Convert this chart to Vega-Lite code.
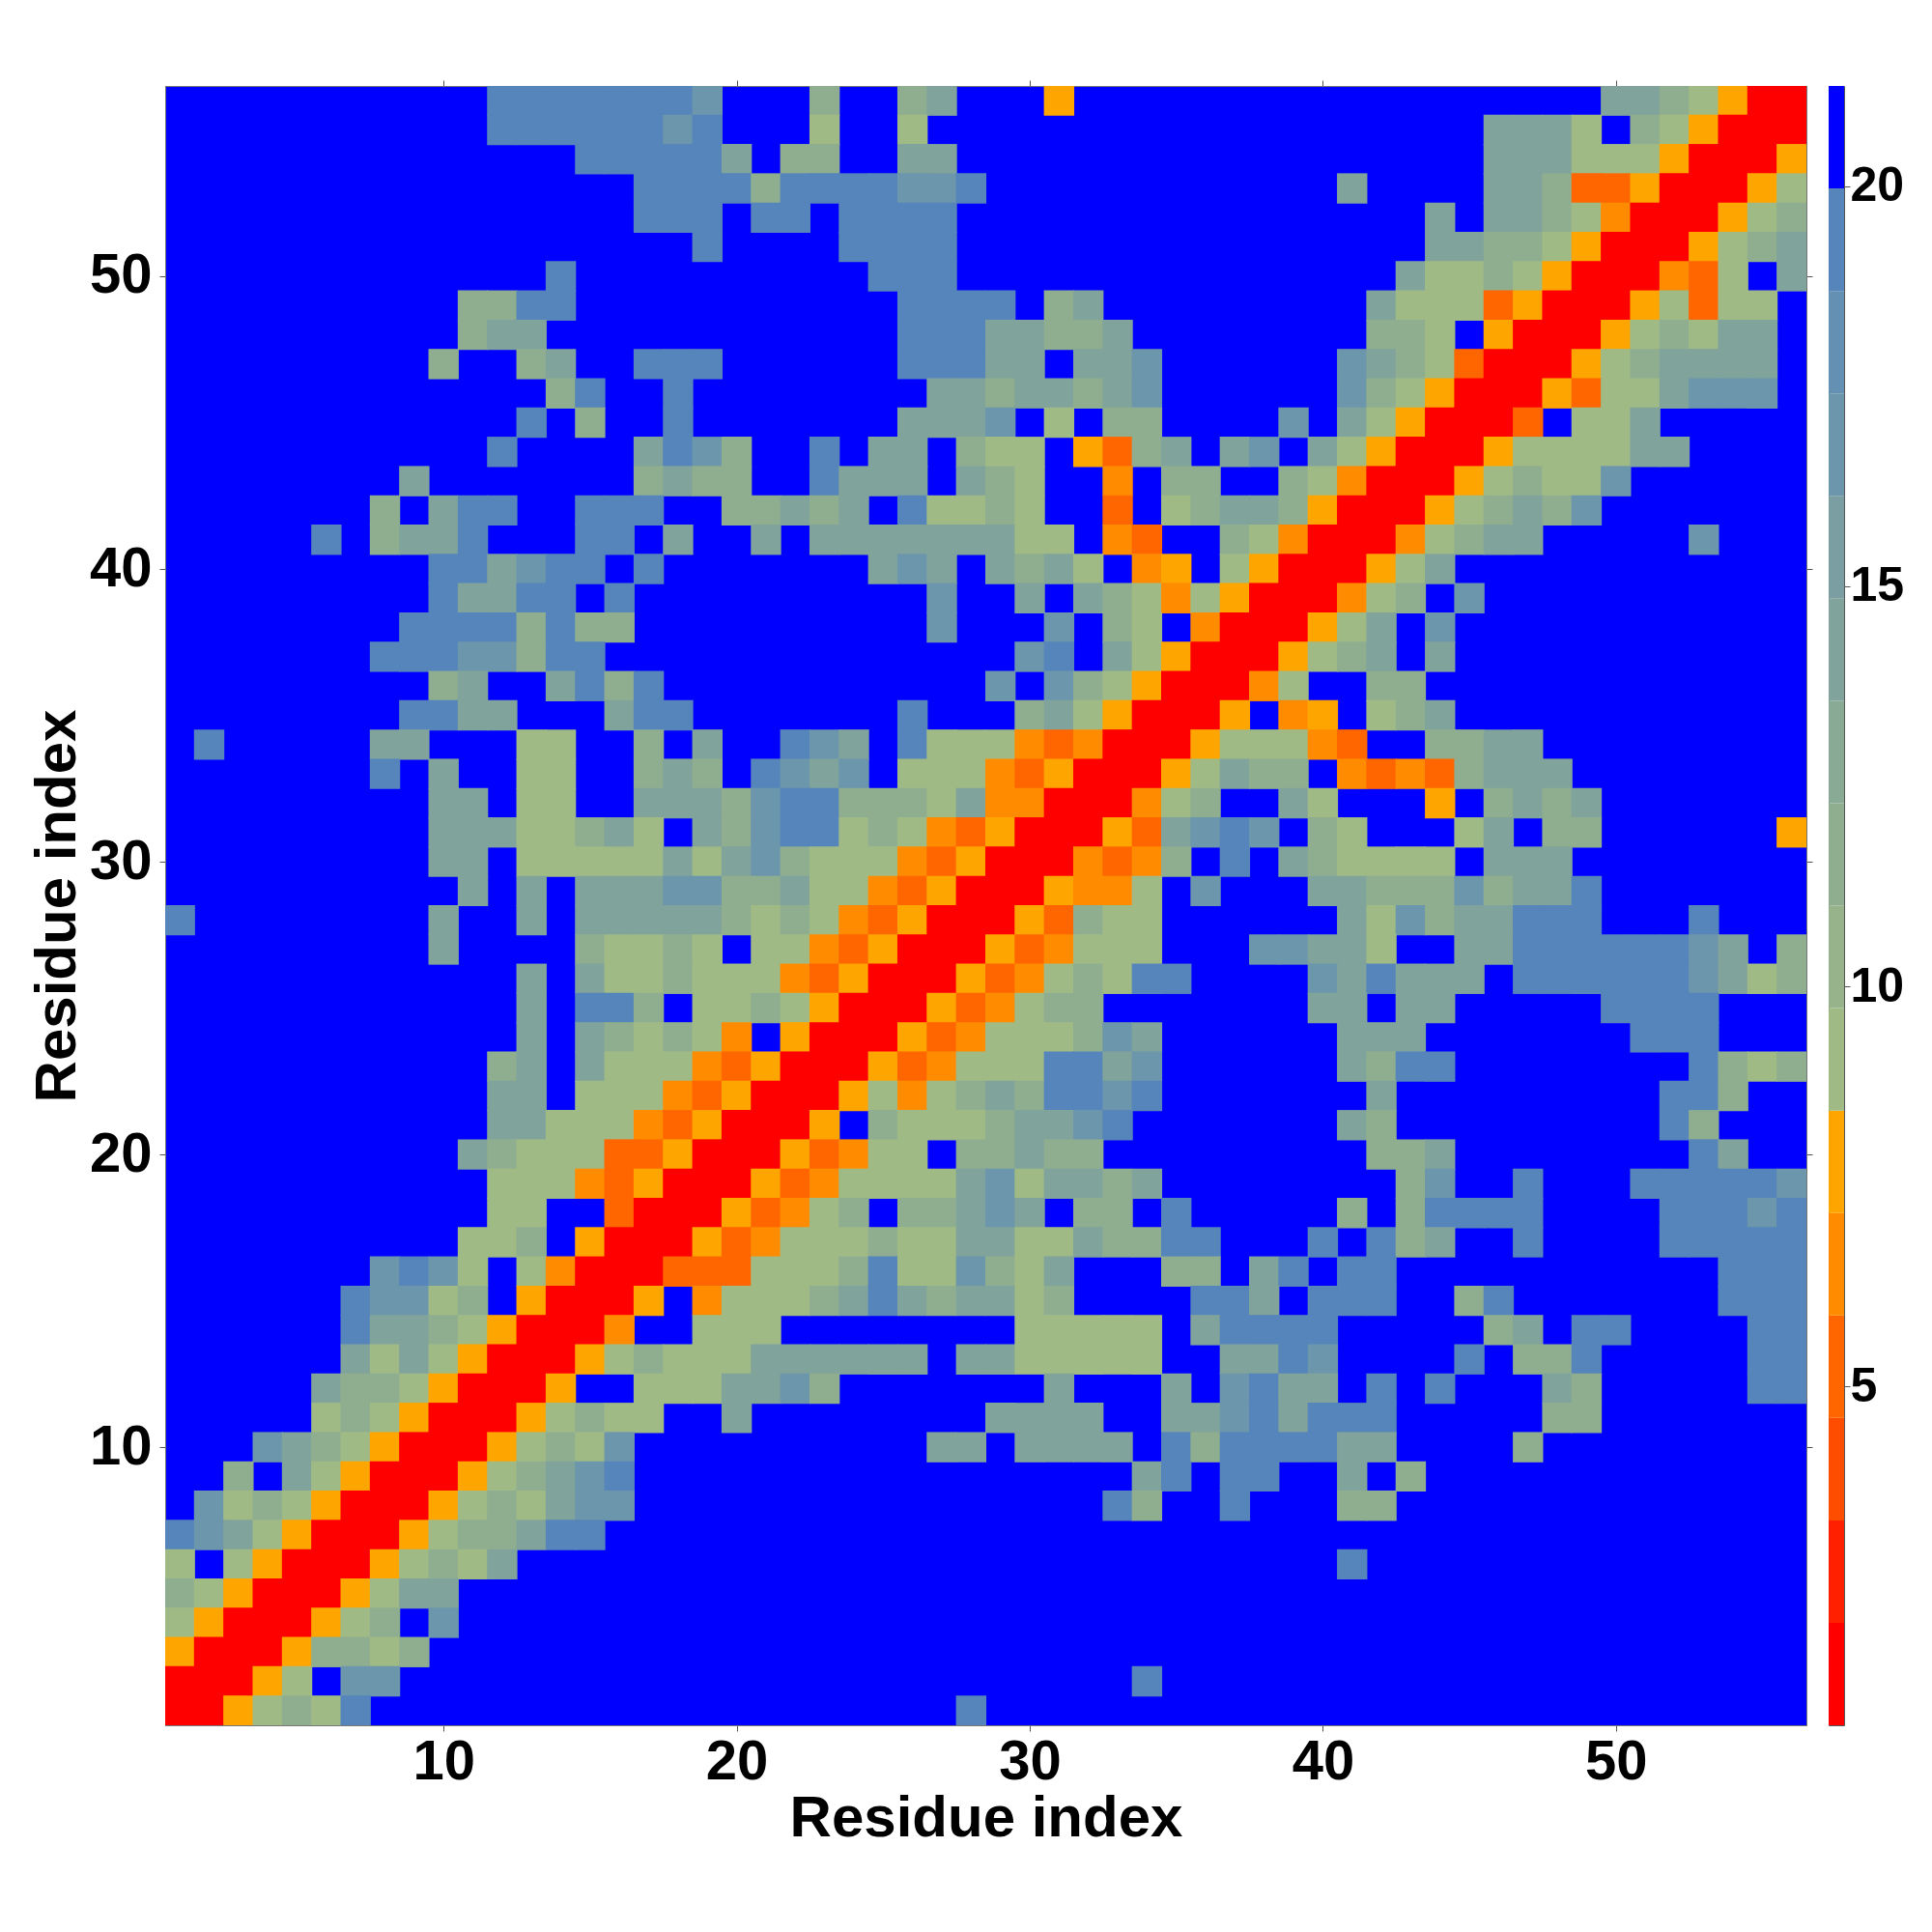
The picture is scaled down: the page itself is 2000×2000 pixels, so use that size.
{"$schema":"https://vega.github.io/schema/vega-lite/v6.json","background":"white","padding":{"left":28,"top":82,"right":0,"bottom":0},"spacing":15,"config":{"font":"Liberation Sans","axis":{"labelFont":"Liberation Sans","titleFont":"Liberation Sans","labelFontWeight":"bold","titleFontWeight":"bold","labelFontSize":58,"titleFontSize":60,"labelColor":"black","titleColor":"black","tickColor":"#555555","domainColor":"#777777","grid":false,"tickSize":6,"labelOverlap":false}},"datasets":{"cells":[
{"x":12,"y":56,"d":19},{"x":13,"y":56,"d":19},{"x":14,"y":56,"d":19},{"x":15,"y":56,"d":19},{"x":16,"y":56,"d":19},{"x":17,"y":56,"d":19},{"x":18,"y":56,"d":19},{"x":19,"y":56,"d":17},{"x":23,"y":56,"d":12},{"x":26,"y":56,"d":12},{"x":27,"y":56,"d":14},{"x":31,"y":56,"d":8},{"x":50,"y":56,"d":14},{"x":51,"y":56,"d":14},{"x":52,"y":56,"d":12},{"x":53,"y":56,"d":9},{"x":54,"y":56,"d":8},{"x":55,"y":56,"d":1},{"x":56,"y":56,"d":1},
{"x":12,"y":55,"d":19},{"x":13,"y":55,"d":19},{"x":14,"y":55,"d":19},{"x":15,"y":55,"d":19},{"x":16,"y":55,"d":19},{"x":17,"y":55,"d":19},{"x":18,"y":55,"d":17},{"x":19,"y":55,"d":19},{"x":23,"y":55,"d":9},{"x":26,"y":55,"d":9},{"x":46,"y":55,"d":14},{"x":47,"y":55,"d":14},{"x":48,"y":55,"d":14},{"x":49,"y":55,"d":9},{"x":51,"y":55,"d":12},{"x":52,"y":55,"d":9},{"x":53,"y":55,"d":8},{"x":54,"y":55,"d":1},{"x":55,"y":55,"d":1},{"x":56,"y":55,"d":1},
{"x":15,"y":54,"d":19},{"x":16,"y":54,"d":19},{"x":17,"y":54,"d":19},{"x":18,"y":54,"d":19},{"x":19,"y":54,"d":19},{"x":20,"y":54,"d":14},{"x":22,"y":54,"d":12},{"x":23,"y":54,"d":12},{"x":26,"y":54,"d":14},{"x":27,"y":54,"d":14},{"x":46,"y":54,"d":14},{"x":47,"y":54,"d":14},{"x":48,"y":54,"d":14},{"x":49,"y":54,"d":9},{"x":50,"y":54,"d":9},{"x":51,"y":54,"d":9},{"x":52,"y":54,"d":8},{"x":53,"y":54,"d":1},{"x":54,"y":54,"d":1},{"x":55,"y":54,"d":1},{"x":56,"y":54,"d":8},
{"x":17,"y":53,"d":19},{"x":18,"y":53,"d":19},{"x":19,"y":53,"d":19},{"x":20,"y":53,"d":19},{"x":21,"y":53,"d":12},{"x":22,"y":53,"d":19},{"x":23,"y":53,"d":19},{"x":24,"y":53,"d":19},{"x":25,"y":53,"d":19},{"x":26,"y":53,"d":17},{"x":27,"y":53,"d":17},{"x":28,"y":53,"d":19},{"x":41,"y":53,"d":14},{"x":46,"y":53,"d":14},{"x":47,"y":53,"d":14},{"x":48,"y":53,"d":12},{"x":49,"y":53,"d":5},{"x":50,"y":53,"d":5},{"x":51,"y":53,"d":8},{"x":52,"y":53,"d":1},{"x":53,"y":53,"d":1},{"x":54,"y":53,"d":1},{"x":55,"y":53,"d":8},{"x":56,"y":53,"d":9},
{"x":17,"y":52,"d":19},{"x":18,"y":52,"d":19},{"x":19,"y":52,"d":19},{"x":21,"y":52,"d":19},{"x":22,"y":52,"d":19},{"x":24,"y":52,"d":19},{"x":25,"y":52,"d":19},{"x":26,"y":52,"d":19},{"x":27,"y":52,"d":19},{"x":44,"y":52,"d":14},{"x":46,"y":52,"d":14},{"x":47,"y":52,"d":14},{"x":48,"y":52,"d":12},{"x":49,"y":52,"d":9},{"x":50,"y":52,"d":7},{"x":51,"y":52,"d":1},{"x":52,"y":52,"d":1},{"x":53,"y":52,"d":1},{"x":54,"y":52,"d":8},{"x":55,"y":52,"d":9},{"x":56,"y":52,"d":12},
{"x":19,"y":51,"d":19},{"x":24,"y":51,"d":19},{"x":25,"y":51,"d":19},{"x":26,"y":51,"d":19},{"x":27,"y":51,"d":19},{"x":44,"y":51,"d":14},{"x":45,"y":51,"d":14},{"x":46,"y":51,"d":12},{"x":47,"y":51,"d":12},{"x":48,"y":51,"d":9},{"x":49,"y":51,"d":8},{"x":50,"y":51,"d":1},{"x":51,"y":51,"d":1},{"x":52,"y":51,"d":1},{"x":53,"y":51,"d":8},{"x":54,"y":51,"d":9},{"x":55,"y":51,"d":12},{"x":56,"y":51,"d":14},
{"x":14,"y":50,"d":19},{"x":25,"y":50,"d":19},{"x":26,"y":50,"d":19},{"x":27,"y":50,"d":19},{"x":43,"y":50,"d":14},{"x":44,"y":50,"d":9},{"x":45,"y":50,"d":9},{"x":46,"y":50,"d":12},{"x":47,"y":50,"d":9},{"x":48,"y":50,"d":8},{"x":49,"y":50,"d":1},{"x":50,"y":50,"d":1},{"x":51,"y":50,"d":1},{"x":52,"y":50,"d":7},{"x":53,"y":50,"d":5},{"x":54,"y":50,"d":9},{"x":56,"y":50,"d":14},
{"x":11,"y":49,"d":12},{"x":12,"y":49,"d":12},{"x":13,"y":49,"d":19},{"x":14,"y":49,"d":19},{"x":26,"y":49,"d":19},{"x":27,"y":49,"d":19},{"x":28,"y":49,"d":19},{"x":29,"y":49,"d":19},{"x":31,"y":49,"d":12},{"x":32,"y":49,"d":14},{"x":42,"y":49,"d":14},{"x":43,"y":49,"d":9},{"x":44,"y":49,"d":9},{"x":45,"y":49,"d":9},{"x":46,"y":49,"d":5},{"x":47,"y":49,"d":8},{"x":48,"y":49,"d":1},{"x":49,"y":49,"d":1},{"x":50,"y":49,"d":1},{"x":51,"y":49,"d":8},{"x":52,"y":49,"d":9},{"x":53,"y":49,"d":5},{"x":54,"y":49,"d":9},{"x":55,"y":49,"d":9},
{"x":11,"y":48,"d":12},{"x":12,"y":48,"d":14},{"x":13,"y":48,"d":14},{"x":26,"y":48,"d":19},{"x":27,"y":48,"d":19},{"x":28,"y":48,"d":19},{"x":29,"y":48,"d":14},{"x":30,"y":48,"d":14},{"x":31,"y":48,"d":12},{"x":32,"y":48,"d":12},{"x":33,"y":48,"d":14},{"x":42,"y":48,"d":12},{"x":43,"y":48,"d":12},{"x":44,"y":48,"d":9},{"x":46,"y":48,"d":8},{"x":47,"y":48,"d":1},{"x":48,"y":48,"d":1},{"x":49,"y":48,"d":1},{"x":50,"y":48,"d":8},{"x":51,"y":48,"d":9},{"x":52,"y":48,"d":12},{"x":53,"y":48,"d":9},{"x":54,"y":48,"d":14},{"x":55,"y":48,"d":14},
{"x":10,"y":47,"d":12},{"x":13,"y":47,"d":12},{"x":14,"y":47,"d":14},{"x":17,"y":47,"d":19},{"x":18,"y":47,"d":19},{"x":19,"y":47,"d":19},{"x":26,"y":47,"d":19},{"x":27,"y":47,"d":19},{"x":28,"y":47,"d":19},{"x":29,"y":47,"d":14},{"x":30,"y":47,"d":14},{"x":32,"y":47,"d":14},{"x":33,"y":47,"d":14},{"x":34,"y":47,"d":17},{"x":41,"y":47,"d":17},{"x":42,"y":47,"d":14},{"x":43,"y":47,"d":12},{"x":44,"y":47,"d":9},{"x":45,"y":47,"d":5},{"x":46,"y":47,"d":1},{"x":47,"y":47,"d":1},{"x":48,"y":47,"d":1},{"x":49,"y":47,"d":8},{"x":50,"y":47,"d":9},{"x":51,"y":47,"d":12},{"x":52,"y":47,"d":14},{"x":53,"y":47,"d":14},{"x":54,"y":47,"d":14},{"x":55,"y":47,"d":14},
{"x":14,"y":46,"d":12},{"x":15,"y":46,"d":19},{"x":18,"y":46,"d":19},{"x":27,"y":46,"d":14},{"x":28,"y":46,"d":14},{"x":29,"y":46,"d":12},{"x":30,"y":46,"d":14},{"x":31,"y":46,"d":14},{"x":32,"y":46,"d":12},{"x":33,"y":46,"d":14},{"x":34,"y":46,"d":17},{"x":41,"y":46,"d":17},{"x":42,"y":46,"d":12},{"x":43,"y":46,"d":9},{"x":44,"y":46,"d":8},{"x":45,"y":46,"d":1},{"x":46,"y":46,"d":1},{"x":47,"y":46,"d":1},{"x":48,"y":46,"d":8},{"x":49,"y":46,"d":5},{"x":50,"y":46,"d":9},{"x":51,"y":46,"d":9},{"x":52,"y":46,"d":14},{"x":53,"y":46,"d":17},{"x":54,"y":46,"d":17},{"x":55,"y":46,"d":17},
{"x":13,"y":45,"d":19},{"x":15,"y":45,"d":12},{"x":18,"y":45,"d":19},{"x":26,"y":45,"d":14},{"x":27,"y":45,"d":14},{"x":28,"y":45,"d":14},{"x":29,"y":45,"d":17},{"x":31,"y":45,"d":9},{"x":33,"y":45,"d":12},{"x":34,"y":45,"d":12},{"x":39,"y":45,"d":17},{"x":41,"y":45,"d":14},{"x":42,"y":45,"d":9},{"x":43,"y":45,"d":8},{"x":44,"y":45,"d":1},{"x":45,"y":45,"d":1},{"x":46,"y":45,"d":1},{"x":47,"y":45,"d":5},{"x":49,"y":45,"d":9},{"x":50,"y":45,"d":9},{"x":51,"y":45,"d":14},
{"x":12,"y":44,"d":19},{"x":17,"y":44,"d":14},{"x":18,"y":44,"d":19},{"x":19,"y":44,"d":17},{"x":20,"y":44,"d":12},{"x":23,"y":44,"d":19},{"x":25,"y":44,"d":14},{"x":26,"y":44,"d":14},{"x":28,"y":44,"d":12},{"x":29,"y":44,"d":9},{"x":30,"y":44,"d":9},{"x":32,"y":44,"d":8},{"x":33,"y":44,"d":5},{"x":34,"y":44,"d":12},{"x":35,"y":44,"d":14},{"x":37,"y":44,"d":14},{"x":38,"y":44,"d":17},{"x":40,"y":44,"d":14},{"x":41,"y":44,"d":9},{"x":42,"y":44,"d":8},{"x":43,"y":44,"d":1},{"x":44,"y":44,"d":1},{"x":45,"y":44,"d":1},{"x":46,"y":44,"d":8},{"x":47,"y":44,"d":9},{"x":48,"y":44,"d":9},{"x":49,"y":44,"d":9},{"x":50,"y":44,"d":9},{"x":51,"y":44,"d":14},{"x":52,"y":44,"d":14},
{"x":9,"y":43,"d":14},{"x":17,"y":43,"d":12},{"x":18,"y":43,"d":14},{"x":19,"y":43,"d":12},{"x":20,"y":43,"d":12},{"x":23,"y":43,"d":19},{"x":24,"y":43,"d":14},{"x":25,"y":43,"d":14},{"x":26,"y":43,"d":14},{"x":28,"y":43,"d":14},{"x":29,"y":43,"d":12},{"x":30,"y":43,"d":9},{"x":33,"y":43,"d":7},{"x":35,"y":43,"d":12},{"x":36,"y":43,"d":12},{"x":39,"y":43,"d":12},{"x":40,"y":43,"d":9},{"x":41,"y":43,"d":7},{"x":42,"y":43,"d":1},{"x":43,"y":43,"d":1},{"x":44,"y":43,"d":1},{"x":45,"y":43,"d":8},{"x":46,"y":43,"d":9},{"x":47,"y":43,"d":12},{"x":48,"y":43,"d":9},{"x":49,"y":43,"d":9},{"x":50,"y":43,"d":17},
{"x":8,"y":42,"d":12},{"x":10,"y":42,"d":14},{"x":11,"y":42,"d":19},{"x":12,"y":42,"d":19},{"x":15,"y":42,"d":19},{"x":16,"y":42,"d":19},{"x":17,"y":42,"d":19},{"x":20,"y":42,"d":12},{"x":21,"y":42,"d":12},{"x":22,"y":42,"d":14},{"x":23,"y":42,"d":12},{"x":24,"y":42,"d":14},{"x":26,"y":42,"d":19},{"x":27,"y":42,"d":9},{"x":28,"y":42,"d":9},{"x":29,"y":42,"d":12},{"x":30,"y":42,"d":9},{"x":33,"y":42,"d":5},{"x":35,"y":42,"d":9},{"x":36,"y":42,"d":12},{"x":37,"y":42,"d":14},{"x":38,"y":42,"d":14},{"x":39,"y":42,"d":12},{"x":40,"y":42,"d":8},{"x":41,"y":42,"d":1},{"x":42,"y":42,"d":1},{"x":43,"y":42,"d":1},{"x":44,"y":42,"d":8},{"x":45,"y":42,"d":9},{"x":46,"y":42,"d":12},{"x":47,"y":42,"d":14},{"x":48,"y":42,"d":12},{"x":49,"y":42,"d":17},
{"x":6,"y":41,"d":19},{"x":8,"y":41,"d":12},{"x":9,"y":41,"d":14},{"x":10,"y":41,"d":14},{"x":11,"y":41,"d":19},{"x":15,"y":41,"d":19},{"x":16,"y":41,"d":19},{"x":18,"y":41,"d":14},{"x":21,"y":41,"d":14},{"x":23,"y":41,"d":14},{"x":24,"y":41,"d":14},{"x":25,"y":41,"d":14},{"x":26,"y":41,"d":14},{"x":27,"y":41,"d":14},{"x":28,"y":41,"d":14},{"x":29,"y":41,"d":14},{"x":30,"y":41,"d":9},{"x":31,"y":41,"d":9},{"x":33,"y":41,"d":7},{"x":34,"y":41,"d":5},{"x":37,"y":41,"d":12},{"x":38,"y":41,"d":9},{"x":39,"y":41,"d":7},{"x":40,"y":41,"d":1},{"x":41,"y":41,"d":1},{"x":42,"y":41,"d":1},{"x":43,"y":41,"d":7},{"x":44,"y":41,"d":9},{"x":45,"y":41,"d":12},{"x":46,"y":41,"d":14},{"x":47,"y":41,"d":14},{"x":53,"y":41,"d":17},
{"x":10,"y":40,"d":19},{"x":11,"y":40,"d":19},{"x":12,"y":40,"d":14},{"x":13,"y":40,"d":17},{"x":14,"y":40,"d":19},{"x":15,"y":40,"d":19},{"x":17,"y":40,"d":19},{"x":25,"y":40,"d":14},{"x":26,"y":40,"d":17},{"x":27,"y":40,"d":14},{"x":29,"y":40,"d":14},{"x":30,"y":40,"d":12},{"x":31,"y":40,"d":14},{"x":32,"y":40,"d":9},{"x":34,"y":40,"d":7},{"x":35,"y":40,"d":8},{"x":37,"y":40,"d":9},{"x":38,"y":40,"d":8},{"x":39,"y":40,"d":1},{"x":40,"y":40,"d":1},{"x":41,"y":40,"d":1},{"x":42,"y":40,"d":8},{"x":43,"y":40,"d":9},{"x":44,"y":40,"d":14},
{"x":10,"y":39,"d":19},{"x":11,"y":39,"d":14},{"x":12,"y":39,"d":14},{"x":13,"y":39,"d":19},{"x":14,"y":39,"d":19},{"x":16,"y":39,"d":19},{"x":27,"y":39,"d":17},{"x":30,"y":39,"d":14},{"x":32,"y":39,"d":14},{"x":33,"y":39,"d":12},{"x":34,"y":39,"d":9},{"x":35,"y":39,"d":7},{"x":36,"y":39,"d":9},{"x":37,"y":39,"d":8},{"x":38,"y":39,"d":1},{"x":39,"y":39,"d":1},{"x":40,"y":39,"d":1},{"x":41,"y":39,"d":7},{"x":42,"y":39,"d":9},{"x":43,"y":39,"d":12},{"x":45,"y":39,"d":17},
{"x":9,"y":38,"d":19},{"x":10,"y":38,"d":19},{"x":11,"y":38,"d":19},{"x":12,"y":38,"d":19},{"x":13,"y":38,"d":12},{"x":14,"y":38,"d":19},{"x":15,"y":38,"d":12},{"x":16,"y":38,"d":12},{"x":27,"y":38,"d":17},{"x":31,"y":38,"d":17},{"x":33,"y":38,"d":12},{"x":34,"y":38,"d":9},{"x":36,"y":38,"d":7},{"x":37,"y":38,"d":1},{"x":38,"y":38,"d":1},{"x":39,"y":38,"d":1},{"x":40,"y":38,"d":8},{"x":41,"y":38,"d":9},{"x":42,"y":38,"d":14},{"x":44,"y":38,"d":17},
{"x":8,"y":37,"d":19},{"x":9,"y":37,"d":19},{"x":10,"y":37,"d":19},{"x":11,"y":37,"d":17},{"x":12,"y":37,"d":17},{"x":13,"y":37,"d":12},{"x":14,"y":37,"d":19},{"x":15,"y":37,"d":19},{"x":30,"y":37,"d":17},{"x":31,"y":37,"d":19},{"x":33,"y":37,"d":14},{"x":34,"y":37,"d":9},{"x":35,"y":37,"d":8},{"x":36,"y":37,"d":1},{"x":37,"y":37,"d":1},{"x":38,"y":37,"d":1},{"x":39,"y":37,"d":8},{"x":40,"y":37,"d":9},{"x":41,"y":37,"d":12},{"x":42,"y":37,"d":14},{"x":44,"y":37,"d":14},
{"x":10,"y":36,"d":12},{"x":11,"y":36,"d":14},{"x":14,"y":36,"d":14},{"x":15,"y":36,"d":19},{"x":16,"y":36,"d":12},{"x":17,"y":36,"d":19},{"x":29,"y":36,"d":17},{"x":31,"y":36,"d":17},{"x":32,"y":36,"d":12},{"x":33,"y":36,"d":9},{"x":34,"y":36,"d":8},{"x":35,"y":36,"d":1},{"x":36,"y":36,"d":1},{"x":37,"y":36,"d":1},{"x":38,"y":36,"d":7},{"x":39,"y":36,"d":9},{"x":42,"y":36,"d":12},{"x":43,"y":36,"d":12},
{"x":9,"y":35,"d":19},{"x":10,"y":35,"d":19},{"x":11,"y":35,"d":14},{"x":12,"y":35,"d":14},{"x":16,"y":35,"d":14},{"x":17,"y":35,"d":19},{"x":18,"y":35,"d":19},{"x":26,"y":35,"d":19},{"x":30,"y":35,"d":12},{"x":31,"y":35,"d":14},{"x":32,"y":35,"d":9},{"x":33,"y":35,"d":8},{"x":34,"y":35,"d":1},{"x":35,"y":35,"d":1},{"x":36,"y":35,"d":1},{"x":37,"y":35,"d":8},{"x":39,"y":35,"d":7},{"x":40,"y":35,"d":8},{"x":42,"y":35,"d":9},{"x":43,"y":35,"d":12},{"x":44,"y":35,"d":14},
{"x":2,"y":34,"d":19},{"x":8,"y":34,"d":14},{"x":9,"y":34,"d":14},{"x":13,"y":34,"d":9},{"x":14,"y":34,"d":9},{"x":17,"y":34,"d":12},{"x":19,"y":34,"d":14},{"x":22,"y":34,"d":19},{"x":23,"y":34,"d":17},{"x":24,"y":34,"d":14},{"x":26,"y":34,"d":19},{"x":27,"y":34,"d":9},{"x":28,"y":34,"d":9},{"x":29,"y":34,"d":9},{"x":30,"y":34,"d":7},{"x":31,"y":34,"d":5},{"x":32,"y":34,"d":7},{"x":33,"y":34,"d":1},{"x":34,"y":34,"d":1},{"x":35,"y":34,"d":1},{"x":36,"y":34,"d":8},{"x":37,"y":34,"d":9},{"x":38,"y":34,"d":9},{"x":39,"y":34,"d":9},{"x":40,"y":34,"d":7},{"x":41,"y":34,"d":5},{"x":44,"y":34,"d":12},{"x":45,"y":34,"d":12},{"x":46,"y":34,"d":14},{"x":47,"y":34,"d":14},
{"x":8,"y":33,"d":19},{"x":10,"y":33,"d":14},{"x":13,"y":33,"d":9},{"x":14,"y":33,"d":9},{"x":17,"y":33,"d":12},{"x":18,"y":33,"d":14},{"x":19,"y":33,"d":12},{"x":21,"y":33,"d":19},{"x":22,"y":33,"d":17},{"x":23,"y":33,"d":14},{"x":24,"y":33,"d":17},{"x":26,"y":33,"d":9},{"x":27,"y":33,"d":9},{"x":28,"y":33,"d":9},{"x":29,"y":33,"d":7},{"x":30,"y":33,"d":5},{"x":31,"y":33,"d":8},{"x":32,"y":33,"d":1},{"x":33,"y":33,"d":1},{"x":34,"y":33,"d":1},{"x":35,"y":33,"d":8},{"x":36,"y":33,"d":9},{"x":37,"y":33,"d":14},{"x":38,"y":33,"d":12},{"x":39,"y":33,"d":12},{"x":41,"y":33,"d":7},{"x":42,"y":33,"d":5},{"x":43,"y":33,"d":7},{"x":44,"y":33,"d":5},{"x":45,"y":33,"d":12},{"x":46,"y":33,"d":14},{"x":47,"y":33,"d":14},{"x":48,"y":33,"d":14},
{"x":10,"y":32,"d":14},{"x":11,"y":32,"d":14},{"x":13,"y":32,"d":9},{"x":14,"y":32,"d":9},{"x":17,"y":32,"d":14},{"x":18,"y":32,"d":14},{"x":19,"y":32,"d":14},{"x":20,"y":32,"d":12},{"x":21,"y":32,"d":17},{"x":22,"y":32,"d":19},{"x":23,"y":32,"d":19},{"x":24,"y":32,"d":12},{"x":25,"y":32,"d":12},{"x":26,"y":32,"d":12},{"x":27,"y":32,"d":9},{"x":28,"y":32,"d":14},{"x":29,"y":32,"d":7},{"x":30,"y":32,"d":7},{"x":31,"y":32,"d":1},{"x":32,"y":32,"d":1},{"x":33,"y":32,"d":1},{"x":34,"y":32,"d":7},{"x":35,"y":32,"d":9},{"x":36,"y":32,"d":12},{"x":39,"y":32,"d":14},{"x":40,"y":32,"d":9},{"x":44,"y":32,"d":8},{"x":46,"y":32,"d":12},{"x":47,"y":32,"d":14},{"x":48,"y":32,"d":12},{"x":49,"y":32,"d":14},
{"x":10,"y":31,"d":14},{"x":11,"y":31,"d":14},{"x":12,"y":31,"d":14},{"x":13,"y":31,"d":9},{"x":14,"y":31,"d":9},{"x":15,"y":31,"d":12},{"x":16,"y":31,"d":14},{"x":17,"y":31,"d":9},{"x":19,"y":31,"d":14},{"x":20,"y":31,"d":12},{"x":21,"y":31,"d":17},{"x":22,"y":31,"d":19},{"x":23,"y":31,"d":19},{"x":24,"y":31,"d":9},{"x":25,"y":31,"d":12},{"x":26,"y":31,"d":9},{"x":27,"y":31,"d":7},{"x":28,"y":31,"d":5},{"x":29,"y":31,"d":8},{"x":30,"y":31,"d":1},{"x":31,"y":31,"d":1},{"x":32,"y":31,"d":1},{"x":33,"y":31,"d":8},{"x":34,"y":31,"d":5},{"x":35,"y":31,"d":14},{"x":36,"y":31,"d":17},{"x":37,"y":31,"d":19},{"x":38,"y":31,"d":17},{"x":40,"y":31,"d":12},{"x":41,"y":31,"d":9},{"x":45,"y":31,"d":9},{"x":46,"y":31,"d":14},{"x":48,"y":31,"d":12},{"x":49,"y":31,"d":12},{"x":56,"y":31,"d":8},
{"x":10,"y":30,"d":14},{"x":11,"y":30,"d":14},{"x":13,"y":30,"d":9},{"x":14,"y":30,"d":9},{"x":15,"y":30,"d":9},{"x":16,"y":30,"d":9},{"x":17,"y":30,"d":9},{"x":18,"y":30,"d":14},{"x":19,"y":30,"d":9},{"x":20,"y":30,"d":14},{"x":21,"y":30,"d":17},{"x":22,"y":30,"d":12},{"x":23,"y":30,"d":9},{"x":24,"y":30,"d":9},{"x":25,"y":30,"d":9},{"x":26,"y":30,"d":7},{"x":27,"y":30,"d":5},{"x":28,"y":30,"d":8},{"x":29,"y":30,"d":1},{"x":30,"y":30,"d":1},{"x":31,"y":30,"d":1},{"x":32,"y":30,"d":7},{"x":33,"y":30,"d":5},{"x":34,"y":30,"d":7},{"x":35,"y":30,"d":12},{"x":37,"y":30,"d":19},{"x":39,"y":30,"d":14},{"x":40,"y":30,"d":12},{"x":41,"y":30,"d":9},{"x":42,"y":30,"d":9},{"x":43,"y":30,"d":9},{"x":44,"y":30,"d":9},{"x":46,"y":30,"d":14},{"x":47,"y":30,"d":14},{"x":48,"y":30,"d":14},
{"x":11,"y":29,"d":14},{"x":13,"y":29,"d":14},{"x":15,"y":29,"d":14},{"x":16,"y":29,"d":14},{"x":17,"y":29,"d":14},{"x":18,"y":29,"d":17},{"x":19,"y":29,"d":17},{"x":20,"y":29,"d":12},{"x":21,"y":29,"d":12},{"x":22,"y":29,"d":14},{"x":23,"y":29,"d":9},{"x":24,"y":29,"d":9},{"x":25,"y":29,"d":7},{"x":26,"y":29,"d":5},{"x":27,"y":29,"d":8},{"x":28,"y":29,"d":1},{"x":29,"y":29,"d":1},{"x":30,"y":29,"d":1},{"x":31,"y":29,"d":8},{"x":32,"y":29,"d":7},{"x":33,"y":29,"d":7},{"x":34,"y":29,"d":9},{"x":36,"y":29,"d":17},{"x":40,"y":29,"d":14},{"x":41,"y":29,"d":14},{"x":42,"y":29,"d":12},{"x":43,"y":29,"d":12},{"x":44,"y":29,"d":12},{"x":45,"y":29,"d":17},{"x":46,"y":29,"d":12},{"x":47,"y":29,"d":14},{"x":48,"y":29,"d":14},{"x":49,"y":29,"d":19},
{"x":1,"y":28,"d":19},{"x":10,"y":28,"d":14},{"x":13,"y":28,"d":14},{"x":15,"y":28,"d":14},{"x":16,"y":28,"d":14},{"x":17,"y":28,"d":14},{"x":18,"y":28,"d":14},{"x":19,"y":28,"d":14},{"x":20,"y":28,"d":12},{"x":21,"y":28,"d":9},{"x":22,"y":28,"d":12},{"x":23,"y":28,"d":9},{"x":24,"y":28,"d":7},{"x":25,"y":28,"d":5},{"x":26,"y":28,"d":8},{"x":27,"y":28,"d":1},{"x":28,"y":28,"d":1},{"x":29,"y":28,"d":1},{"x":30,"y":28,"d":8},{"x":31,"y":28,"d":5},{"x":32,"y":28,"d":12},{"x":33,"y":28,"d":9},{"x":34,"y":28,"d":9},{"x":41,"y":28,"d":14},{"x":42,"y":28,"d":9},{"x":43,"y":28,"d":17},{"x":44,"y":28,"d":12},{"x":45,"y":28,"d":14},{"x":46,"y":28,"d":14},{"x":47,"y":28,"d":19},{"x":48,"y":28,"d":19},{"x":49,"y":28,"d":19},{"x":53,"y":28,"d":19},
{"x":10,"y":27,"d":14},{"x":15,"y":27,"d":12},{"x":16,"y":27,"d":9},{"x":17,"y":27,"d":9},{"x":18,"y":27,"d":12},{"x":19,"y":27,"d":9},{"x":21,"y":27,"d":9},{"x":22,"y":27,"d":9},{"x":23,"y":27,"d":7},{"x":24,"y":27,"d":5},{"x":25,"y":27,"d":8},{"x":26,"y":27,"d":1},{"x":27,"y":27,"d":1},{"x":28,"y":27,"d":1},{"x":29,"y":27,"d":8},{"x":30,"y":27,"d":5},{"x":31,"y":27,"d":7},{"x":32,"y":27,"d":9},{"x":33,"y":27,"d":9},{"x":34,"y":27,"d":9},{"x":38,"y":27,"d":17},{"x":39,"y":27,"d":17},{"x":40,"y":27,"d":14},{"x":41,"y":27,"d":14},{"x":42,"y":27,"d":9},{"x":45,"y":27,"d":14},{"x":46,"y":27,"d":14},{"x":47,"y":27,"d":19},{"x":48,"y":27,"d":19},{"x":49,"y":27,"d":19},{"x":50,"y":27,"d":19},{"x":51,"y":27,"d":19},{"x":52,"y":27,"d":19},{"x":53,"y":27,"d":17},{"x":54,"y":27,"d":14},{"x":56,"y":27,"d":12},
{"x":13,"y":26,"d":14},{"x":15,"y":26,"d":14},{"x":16,"y":26,"d":9},{"x":17,"y":26,"d":9},{"x":18,"y":26,"d":12},{"x":19,"y":26,"d":9},{"x":20,"y":26,"d":9},{"x":21,"y":26,"d":9},{"x":22,"y":26,"d":7},{"x":23,"y":26,"d":5},{"x":24,"y":26,"d":8},{"x":25,"y":26,"d":1},{"x":26,"y":26,"d":1},{"x":27,"y":26,"d":1},{"x":28,"y":26,"d":8},{"x":29,"y":26,"d":5},{"x":30,"y":26,"d":7},{"x":31,"y":26,"d":9},{"x":32,"y":26,"d":12},{"x":33,"y":26,"d":9},{"x":34,"y":26,"d":19},{"x":35,"y":26,"d":19},{"x":40,"y":26,"d":17},{"x":41,"y":26,"d":14},{"x":42,"y":26,"d":19},{"x":43,"y":26,"d":14},{"x":44,"y":26,"d":14},{"x":45,"y":26,"d":14},{"x":47,"y":26,"d":19},{"x":48,"y":26,"d":19},{"x":49,"y":26,"d":19},{"x":50,"y":26,"d":19},{"x":51,"y":26,"d":19},{"x":52,"y":26,"d":19},{"x":53,"y":26,"d":17},{"x":54,"y":26,"d":14},{"x":55,"y":26,"d":9},{"x":56,"y":26,"d":12},
{"x":13,"y":25,"d":14},{"x":15,"y":25,"d":19},{"x":16,"y":25,"d":19},{"x":17,"y":25,"d":12},{"x":19,"y":25,"d":9},{"x":20,"y":25,"d":9},{"x":21,"y":25,"d":12},{"x":22,"y":25,"d":9},{"x":23,"y":25,"d":8},{"x":24,"y":25,"d":1},{"x":25,"y":25,"d":1},{"x":26,"y":25,"d":1},{"x":27,"y":25,"d":8},{"x":28,"y":25,"d":5},{"x":29,"y":25,"d":7},{"x":30,"y":25,"d":9},{"x":31,"y":25,"d":12},{"x":32,"y":25,"d":12},{"x":40,"y":25,"d":14},{"x":41,"y":25,"d":14},{"x":43,"y":25,"d":14},{"x":44,"y":25,"d":14},{"x":50,"y":25,"d":19},{"x":51,"y":25,"d":19},{"x":52,"y":25,"d":19},{"x":53,"y":25,"d":19},
{"x":13,"y":24,"d":14},{"x":15,"y":24,"d":14},{"x":16,"y":24,"d":12},{"x":17,"y":24,"d":9},{"x":18,"y":24,"d":12},{"x":19,"y":24,"d":9},{"x":20,"y":24,"d":7},{"x":22,"y":24,"d":8},{"x":23,"y":24,"d":1},{"x":24,"y":24,"d":1},{"x":25,"y":24,"d":1},{"x":26,"y":24,"d":8},{"x":27,"y":24,"d":5},{"x":28,"y":24,"d":7},{"x":29,"y":24,"d":9},{"x":30,"y":24,"d":9},{"x":31,"y":24,"d":9},{"x":32,"y":24,"d":12},{"x":33,"y":24,"d":17},{"x":34,"y":24,"d":14},{"x":41,"y":24,"d":14},{"x":42,"y":24,"d":14},{"x":43,"y":24,"d":14},{"x":51,"y":24,"d":19},{"x":52,"y":24,"d":19},{"x":53,"y":24,"d":19},
{"x":12,"y":23,"d":12},{"x":13,"y":23,"d":14},{"x":15,"y":23,"d":14},{"x":16,"y":23,"d":9},{"x":17,"y":23,"d":9},{"x":18,"y":23,"d":9},{"x":19,"y":23,"d":7},{"x":20,"y":23,"d":5},{"x":21,"y":23,"d":8},{"x":22,"y":23,"d":1},{"x":23,"y":23,"d":1},{"x":24,"y":23,"d":1},{"x":25,"y":23,"d":8},{"x":26,"y":23,"d":5},{"x":27,"y":23,"d":7},{"x":28,"y":23,"d":9},{"x":29,"y":23,"d":9},{"x":30,"y":23,"d":9},{"x":31,"y":23,"d":19},{"x":32,"y":23,"d":19},{"x":33,"y":23,"d":14},{"x":34,"y":23,"d":17},{"x":41,"y":23,"d":14},{"x":42,"y":23,"d":12},{"x":43,"y":23,"d":19},{"x":44,"y":23,"d":19},{"x":53,"y":23,"d":19},{"x":54,"y":23,"d":12},{"x":55,"y":23,"d":9},{"x":56,"y":23,"d":12},
{"x":12,"y":22,"d":14},{"x":13,"y":22,"d":14},{"x":15,"y":22,"d":9},{"x":16,"y":22,"d":9},{"x":17,"y":22,"d":9},{"x":18,"y":22,"d":7},{"x":19,"y":22,"d":5},{"x":20,"y":22,"d":8},{"x":21,"y":22,"d":1},{"x":22,"y":22,"d":1},{"x":23,"y":22,"d":1},{"x":24,"y":22,"d":8},{"x":25,"y":22,"d":9},{"x":26,"y":22,"d":7},{"x":27,"y":22,"d":9},{"x":28,"y":22,"d":12},{"x":29,"y":22,"d":14},{"x":30,"y":22,"d":12},{"x":31,"y":22,"d":19},{"x":32,"y":22,"d":19},{"x":33,"y":22,"d":17},{"x":34,"y":22,"d":19},{"x":42,"y":22,"d":14},{"x":52,"y":22,"d":19},{"x":53,"y":22,"d":19},{"x":54,"y":22,"d":12},
{"x":12,"y":21,"d":14},{"x":13,"y":21,"d":14},{"x":14,"y":21,"d":9},{"x":15,"y":21,"d":9},{"x":16,"y":21,"d":9},{"x":17,"y":21,"d":7},{"x":18,"y":21,"d":5},{"x":19,"y":21,"d":8},{"x":20,"y":21,"d":1},{"x":21,"y":21,"d":1},{"x":22,"y":21,"d":1},{"x":23,"y":21,"d":8},{"x":25,"y":21,"d":12},{"x":26,"y":21,"d":9},{"x":27,"y":21,"d":9},{"x":28,"y":21,"d":9},{"x":29,"y":21,"d":12},{"x":30,"y":21,"d":14},{"x":31,"y":21,"d":14},{"x":32,"y":21,"d":17},{"x":33,"y":21,"d":19},{"x":41,"y":21,"d":14},{"x":42,"y":21,"d":12},{"x":52,"y":21,"d":19},{"x":53,"y":21,"d":12},
{"x":11,"y":20,"d":14},{"x":12,"y":20,"d":12},{"x":13,"y":20,"d":9},{"x":14,"y":20,"d":9},{"x":15,"y":20,"d":9},{"x":16,"y":20,"d":5},{"x":17,"y":20,"d":5},{"x":18,"y":20,"d":8},{"x":19,"y":20,"d":1},{"x":20,"y":20,"d":1},{"x":21,"y":20,"d":1},{"x":22,"y":20,"d":8},{"x":23,"y":20,"d":5},{"x":24,"y":20,"d":7},{"x":25,"y":20,"d":9},{"x":26,"y":20,"d":9},{"x":28,"y":20,"d":12},{"x":29,"y":20,"d":12},{"x":30,"y":20,"d":14},{"x":31,"y":20,"d":12},{"x":32,"y":20,"d":12},{"x":42,"y":20,"d":12},{"x":43,"y":20,"d":12},{"x":44,"y":20,"d":14},{"x":53,"y":20,"d":19},{"x":54,"y":20,"d":14},
{"x":12,"y":19,"d":9},{"x":13,"y":19,"d":9},{"x":14,"y":19,"d":9},{"x":15,"y":19,"d":7},{"x":16,"y":19,"d":5},{"x":17,"y":19,"d":8},{"x":18,"y":19,"d":1},{"x":19,"y":19,"d":1},{"x":20,"y":19,"d":1},{"x":21,"y":19,"d":8},{"x":22,"y":19,"d":5},{"x":23,"y":19,"d":7},{"x":24,"y":19,"d":9},{"x":25,"y":19,"d":9},{"x":26,"y":19,"d":9},{"x":27,"y":19,"d":9},{"x":28,"y":19,"d":14},{"x":29,"y":19,"d":17},{"x":30,"y":19,"d":9},{"x":31,"y":19,"d":14},{"x":32,"y":19,"d":14},{"x":33,"y":19,"d":12},{"x":34,"y":19,"d":14},{"x":43,"y":19,"d":12},{"x":44,"y":19,"d":17},{"x":47,"y":19,"d":19},{"x":51,"y":19,"d":19},{"x":52,"y":19,"d":19},{"x":53,"y":19,"d":19},{"x":54,"y":19,"d":19},{"x":55,"y":19,"d":19},{"x":56,"y":19,"d":17},
{"x":12,"y":18,"d":9},{"x":13,"y":18,"d":9},{"x":16,"y":18,"d":5},{"x":17,"y":18,"d":1},{"x":18,"y":18,"d":1},{"x":19,"y":18,"d":1},{"x":20,"y":18,"d":8},{"x":21,"y":18,"d":5},{"x":22,"y":18,"d":7},{"x":23,"y":18,"d":9},{"x":24,"y":18,"d":12},{"x":26,"y":18,"d":12},{"x":27,"y":18,"d":12},{"x":28,"y":18,"d":14},{"x":29,"y":18,"d":17},{"x":30,"y":18,"d":14},{"x":32,"y":18,"d":12},{"x":33,"y":18,"d":12},{"x":35,"y":18,"d":19},{"x":41,"y":18,"d":12},{"x":43,"y":18,"d":12},{"x":44,"y":18,"d":19},{"x":45,"y":18,"d":19},{"x":46,"y":18,"d":19},{"x":47,"y":18,"d":19},{"x":52,"y":18,"d":19},{"x":53,"y":18,"d":19},{"x":54,"y":18,"d":19},{"x":55,"y":18,"d":17},{"x":56,"y":18,"d":19},
{"x":11,"y":17,"d":9},{"x":12,"y":17,"d":9},{"x":13,"y":17,"d":12},{"x":15,"y":17,"d":8},{"x":16,"y":17,"d":1},{"x":17,"y":17,"d":1},{"x":18,"y":17,"d":1},{"x":19,"y":17,"d":8},{"x":20,"y":17,"d":5},{"x":21,"y":17,"d":7},{"x":22,"y":17,"d":9},{"x":23,"y":17,"d":9},{"x":24,"y":17,"d":9},{"x":25,"y":17,"d":12},{"x":26,"y":17,"d":9},{"x":27,"y":17,"d":9},{"x":28,"y":17,"d":14},{"x":29,"y":17,"d":14},{"x":30,"y":17,"d":9},{"x":31,"y":17,"d":9},{"x":32,"y":17,"d":14},{"x":33,"y":17,"d":12},{"x":34,"y":17,"d":12},{"x":35,"y":17,"d":19},{"x":36,"y":17,"d":19},{"x":40,"y":17,"d":19},{"x":42,"y":17,"d":19},{"x":43,"y":17,"d":12},{"x":44,"y":17,"d":14},{"x":47,"y":17,"d":19},{"x":52,"y":17,"d":19},{"x":53,"y":17,"d":19},{"x":54,"y":17,"d":19},{"x":55,"y":17,"d":19},{"x":56,"y":17,"d":19},
{"x":8,"y":16,"d":17},{"x":9,"y":16,"d":19},{"x":10,"y":16,"d":17},{"x":11,"y":16,"d":9},{"x":13,"y":16,"d":9},{"x":14,"y":16,"d":7},{"x":15,"y":16,"d":1},{"x":16,"y":16,"d":1},{"x":17,"y":16,"d":1},{"x":18,"y":16,"d":5},{"x":19,"y":16,"d":5},{"x":20,"y":16,"d":5},{"x":21,"y":16,"d":9},{"x":22,"y":16,"d":9},{"x":23,"y":16,"d":9},{"x":24,"y":16,"d":12},{"x":25,"y":16,"d":19},{"x":26,"y":16,"d":9},{"x":27,"y":16,"d":9},{"x":28,"y":16,"d":17},{"x":29,"y":16,"d":12},{"x":30,"y":16,"d":9},{"x":31,"y":16,"d":14},{"x":35,"y":16,"d":12},{"x":36,"y":16,"d":12},{"x":38,"y":16,"d":14},{"x":39,"y":16,"d":19},{"x":41,"y":16,"d":19},{"x":42,"y":16,"d":19},{"x":54,"y":16,"d":19},{"x":55,"y":16,"d":19},{"x":56,"y":16,"d":19},
{"x":7,"y":15,"d":19},{"x":8,"y":15,"d":17},{"x":9,"y":15,"d":17},{"x":10,"y":15,"d":9},{"x":11,"y":15,"d":12},{"x":13,"y":15,"d":8},{"x":14,"y":15,"d":1},{"x":15,"y":15,"d":1},{"x":16,"y":15,"d":1},{"x":17,"y":15,"d":8},{"x":19,"y":15,"d":7},{"x":20,"y":15,"d":9},{"x":21,"y":15,"d":9},{"x":22,"y":15,"d":9},{"x":23,"y":15,"d":12},{"x":24,"y":15,"d":14},{"x":25,"y":15,"d":19},{"x":26,"y":15,"d":14},{"x":27,"y":15,"d":12},{"x":28,"y":15,"d":14},{"x":29,"y":15,"d":14},{"x":30,"y":15,"d":9},{"x":31,"y":15,"d":12},{"x":36,"y":15,"d":19},{"x":37,"y":15,"d":19},{"x":38,"y":15,"d":14},{"x":40,"y":15,"d":19},{"x":41,"y":15,"d":19},{"x":42,"y":15,"d":19},{"x":45,"y":15,"d":12},{"x":46,"y":15,"d":19},{"x":54,"y":15,"d":19},{"x":55,"y":15,"d":19},{"x":56,"y":15,"d":19},
{"x":7,"y":14,"d":19},{"x":8,"y":14,"d":14},{"x":9,"y":14,"d":14},{"x":10,"y":14,"d":12},{"x":11,"y":14,"d":9},{"x":12,"y":14,"d":8},{"x":13,"y":14,"d":1},{"x":14,"y":14,"d":1},{"x":15,"y":14,"d":1},{"x":16,"y":14,"d":7},{"x":19,"y":14,"d":9},{"x":20,"y":14,"d":9},{"x":21,"y":14,"d":9},{"x":30,"y":14,"d":9},{"x":31,"y":14,"d":9},{"x":32,"y":14,"d":9},{"x":33,"y":14,"d":9},{"x":34,"y":14,"d":9},{"x":36,"y":14,"d":14},{"x":37,"y":14,"d":19},{"x":38,"y":14,"d":19},{"x":39,"y":14,"d":19},{"x":40,"y":14,"d":19},{"x":46,"y":14,"d":12},{"x":47,"y":14,"d":14},{"x":49,"y":14,"d":19},{"x":50,"y":14,"d":19},{"x":55,"y":14,"d":19},{"x":56,"y":14,"d":19},
{"x":7,"y":13,"d":14},{"x":8,"y":13,"d":9},{"x":9,"y":13,"d":14},{"x":10,"y":13,"d":9},{"x":11,"y":13,"d":8},{"x":12,"y":13,"d":1},{"x":13,"y":13,"d":1},{"x":14,"y":13,"d":1},{"x":15,"y":13,"d":8},{"x":16,"y":13,"d":9},{"x":17,"y":13,"d":12},{"x":18,"y":13,"d":9},{"x":19,"y":13,"d":9},{"x":20,"y":13,"d":9},{"x":21,"y":13,"d":14},{"x":22,"y":13,"d":14},{"x":23,"y":13,"d":14},{"x":24,"y":13,"d":14},{"x":25,"y":13,"d":14},{"x":26,"y":13,"d":14},{"x":28,"y":13,"d":14},{"x":29,"y":13,"d":14},{"x":30,"y":13,"d":9},{"x":31,"y":13,"d":9},{"x":32,"y":13,"d":9},{"x":33,"y":13,"d":9},{"x":34,"y":13,"d":9},{"x":37,"y":13,"d":14},{"x":38,"y":13,"d":14},{"x":39,"y":13,"d":19},{"x":40,"y":13,"d":17},{"x":45,"y":13,"d":19},{"x":47,"y":13,"d":12},{"x":48,"y":13,"d":12},{"x":49,"y":13,"d":19},{"x":55,"y":13,"d":19},{"x":56,"y":13,"d":19},
{"x":6,"y":12,"d":14},{"x":7,"y":12,"d":12},{"x":8,"y":12,"d":12},{"x":9,"y":12,"d":9},{"x":10,"y":12,"d":8},{"x":11,"y":12,"d":1},{"x":12,"y":12,"d":1},{"x":13,"y":12,"d":1},{"x":14,"y":12,"d":8},{"x":17,"y":12,"d":9},{"x":18,"y":12,"d":9},{"x":19,"y":12,"d":9},{"x":20,"y":12,"d":14},{"x":21,"y":12,"d":14},{"x":22,"y":12,"d":17},{"x":23,"y":12,"d":12},{"x":31,"y":12,"d":14},{"x":35,"y":12,"d":14},{"x":37,"y":12,"d":17},{"x":38,"y":12,"d":19},{"x":39,"y":12,"d":14},{"x":40,"y":12,"d":14},{"x":42,"y":12,"d":19},{"x":44,"y":12,"d":19},{"x":48,"y":12,"d":14},{"x":49,"y":12,"d":12},{"x":55,"y":12,"d":19},{"x":56,"y":12,"d":19},
{"x":6,"y":11,"d":9},{"x":7,"y":11,"d":12},{"x":8,"y":11,"d":9},{"x":9,"y":11,"d":8},{"x":10,"y":11,"d":1},{"x":11,"y":11,"d":1},{"x":12,"y":11,"d":1},{"x":13,"y":11,"d":8},{"x":14,"y":11,"d":9},{"x":15,"y":11,"d":12},{"x":16,"y":11,"d":9},{"x":17,"y":11,"d":9},{"x":20,"y":11,"d":14},{"x":29,"y":11,"d":14},{"x":30,"y":11,"d":14},{"x":31,"y":11,"d":14},{"x":32,"y":11,"d":14},{"x":35,"y":11,"d":14},{"x":36,"y":11,"d":14},{"x":37,"y":11,"d":17},{"x":38,"y":11,"d":19},{"x":39,"y":11,"d":14},{"x":40,"y":11,"d":19},{"x":41,"y":11,"d":19},{"x":42,"y":11,"d":19},{"x":48,"y":11,"d":12},{"x":49,"y":11,"d":12},
{"x":4,"y":10,"d":17},{"x":5,"y":10,"d":14},{"x":6,"y":10,"d":12},{"x":7,"y":10,"d":9},{"x":8,"y":10,"d":8},{"x":9,"y":10,"d":1},{"x":10,"y":10,"d":1},{"x":11,"y":10,"d":1},{"x":12,"y":10,"d":8},{"x":13,"y":10,"d":9},{"x":14,"y":10,"d":12},{"x":15,"y":10,"d":9},{"x":16,"y":10,"d":17},{"x":27,"y":10,"d":14},{"x":28,"y":10,"d":14},{"x":30,"y":10,"d":14},{"x":31,"y":10,"d":14},{"x":32,"y":10,"d":14},{"x":33,"y":10,"d":14},{"x":35,"y":10,"d":19},{"x":36,"y":10,"d":12},{"x":37,"y":10,"d":19},{"x":38,"y":10,"d":19},{"x":39,"y":10,"d":19},{"x":40,"y":10,"d":19},{"x":41,"y":10,"d":14},{"x":42,"y":10,"d":14},{"x":47,"y":10,"d":12},
{"x":3,"y":9,"d":12},{"x":5,"y":9,"d":14},{"x":6,"y":9,"d":9},{"x":7,"y":9,"d":8},{"x":8,"y":9,"d":1},{"x":9,"y":9,"d":1},{"x":10,"y":9,"d":1},{"x":11,"y":9,"d":8},{"x":12,"y":9,"d":9},{"x":13,"y":9,"d":12},{"x":14,"y":9,"d":14},{"x":15,"y":9,"d":17},{"x":16,"y":9,"d":19},{"x":34,"y":9,"d":14},{"x":35,"y":9,"d":19},{"x":37,"y":9,"d":19},{"x":38,"y":9,"d":19},{"x":41,"y":9,"d":14},{"x":43,"y":9,"d":12},
{"x":2,"y":8,"d":17},{"x":3,"y":8,"d":9},{"x":4,"y":8,"d":12},{"x":5,"y":8,"d":9},{"x":6,"y":8,"d":8},{"x":7,"y":8,"d":1},{"x":8,"y":8,"d":1},{"x":9,"y":8,"d":1},{"x":10,"y":8,"d":8},{"x":11,"y":8,"d":9},{"x":12,"y":8,"d":12},{"x":13,"y":8,"d":9},{"x":14,"y":8,"d":14},{"x":15,"y":8,"d":17},{"x":16,"y":8,"d":17},{"x":33,"y":8,"d":19},{"x":34,"y":8,"d":12},{"x":37,"y":8,"d":19},{"x":41,"y":8,"d":12},{"x":42,"y":8,"d":12},
{"x":1,"y":7,"d":19},{"x":2,"y":7,"d":17},{"x":3,"y":7,"d":14},{"x":4,"y":7,"d":9},{"x":5,"y":7,"d":8},{"x":6,"y":7,"d":1},{"x":7,"y":7,"d":1},{"x":8,"y":7,"d":1},{"x":9,"y":7,"d":8},{"x":10,"y":7,"d":9},{"x":11,"y":7,"d":12},{"x":12,"y":7,"d":12},{"x":13,"y":7,"d":14},{"x":14,"y":7,"d":19},{"x":15,"y":7,"d":19},
{"x":1,"y":6,"d":9},{"x":3,"y":6,"d":9},{"x":4,"y":6,"d":8},{"x":5,"y":6,"d":1},{"x":6,"y":6,"d":1},{"x":7,"y":6,"d":1},{"x":8,"y":6,"d":8},{"x":9,"y":6,"d":9},{"x":10,"y":6,"d":12},{"x":11,"y":6,"d":9},{"x":12,"y":6,"d":14},{"x":41,"y":6,"d":19},
{"x":1,"y":5,"d":12},{"x":2,"y":5,"d":9},{"x":3,"y":5,"d":8},{"x":4,"y":5,"d":1},{"x":5,"y":5,"d":1},{"x":6,"y":5,"d":1},{"x":7,"y":5,"d":8},{"x":8,"y":5,"d":9},{"x":9,"y":5,"d":14},{"x":10,"y":5,"d":14},
{"x":1,"y":4,"d":9},{"x":2,"y":4,"d":8},{"x":3,"y":4,"d":1},{"x":4,"y":4,"d":1},{"x":5,"y":4,"d":1},{"x":6,"y":4,"d":8},{"x":7,"y":4,"d":9},{"x":8,"y":4,"d":12},{"x":10,"y":4,"d":17},
{"x":1,"y":3,"d":8},{"x":2,"y":3,"d":1},{"x":3,"y":3,"d":1},{"x":4,"y":3,"d":1},{"x":5,"y":3,"d":8},{"x":6,"y":3,"d":12},{"x":7,"y":3,"d":12},{"x":8,"y":3,"d":9},{"x":9,"y":3,"d":12},
{"x":1,"y":2,"d":1},{"x":2,"y":2,"d":1},{"x":3,"y":2,"d":1},{"x":4,"y":2,"d":8},{"x":5,"y":2,"d":9},{"x":7,"y":2,"d":17},{"x":8,"y":2,"d":17},{"x":34,"y":2,"d":19},
{"x":1,"y":1,"d":1},{"x":2,"y":1,"d":1},{"x":3,"y":1,"d":8},{"x":4,"y":1,"d":9},{"x":5,"y":1,"d":12},{"x":6,"y":1,"d":9},{"x":7,"y":1,"d":19},{"x":28,"y":1,"d":19}
],"bar":[{"lo":0.77,"hi":2.05,"d":1.4},{"lo":2.05,"hi":3.33,"d":2.7},{"lo":3.33,"hi":4.61,"d":4},{"lo":4.61,"hi":5.89,"d":5.25},{"lo":5.89,"hi":7.17,"d":6.5},{"lo":7.17,"hi":8.45,"d":7.8},{"lo":8.45,"hi":9.73,"d":9.1},{"lo":9.73,"hi":11.01,"d":10.4},{"lo":11.01,"hi":12.29,"d":11.65},{"lo":12.29,"hi":13.57,"d":12.9},{"lo":13.57,"hi":14.85,"d":14.2},{"lo":14.85,"hi":16.13,"d":15.5},{"lo":16.13,"hi":17.41,"d":16.8},{"lo":17.41,"hi":18.69,"d":18},{"lo":18.69,"hi":19.97,"d":19.3},{"lo":19.97,"hi":21.25,"d":20.6}]},
"hconcat":[{"width":1699,"height":1697,"view":{"fill":"#0000ff","stroke":"#777777"},"resolve":{"axis":{"x":"independent","y":"independent"}},"layer":[
{"data":{"name":"cells"},"mark":{"type":"rect","width":31.4,"height":31.4,"clip":true},"encoding":{"x":{"field":"x","type":"quantitative","scale":{"domain":[0.5,56.5],"nice":false,"zero":false},"axis":{"title":"Residue index","values":[10,20,30,40,50],"labelPadding":3,"titlePadding":0}},"y":{"field":"y","type":"quantitative","scale":{"domain":[0.5,56.5],"nice":false,"zero":false},"axis":{"title":"Residue index","values":[10,20,30,40,50],"labelPadding":8,"titlePadding":2}},"color":{"field":"d","type":"quantitative","legend":null,"scale":{"type":"threshold","domain":[2.05,3.33,4.61,5.89,7.17,8.45,9.73,11.01,12.29,13.57,14.85,16.13,17.41,18.69,19.97],"range":["#ff0000","#ff2000","#ff4d00","#ff6600","#ff8c00","#ffa500","#a0ba86","#97b38b","#8fae8f","#89ab95","#80a39c","#7a9ea2","#6c96ac","#6390b3","#5585ba","#0000ff"]}}}},
{"data":{"values":[]},"mark":{"type":"rect"},"encoding":{"x":{"field":"x","type":"quantitative","scale":{"domain":[0.5,56.5],"nice":false,"zero":false},"axis":{"orient":"top","title":null,"labels":false,"values":[10,20,30,40,50]}},"y":{"field":"y","type":"quantitative","scale":{"domain":[0.5,56.5],"nice":false,"zero":false},"axis":{"orient":"right","title":null,"labels":false,"values":[10,20,30,40,50]}}}}
]},
{"width":16,"height":1697,"view":{"stroke":"#555555"},"data":{"name":"bar"},"mark":{"type":"rect"},"encoding":{"y":{"field":"lo","type":"quantitative","scale":{"domain":[0.77,21.25],"nice":false,"zero":false},"axis":{"orient":"right","title":null,"values":[5,10,15,20],"labelFontSize":50,"labelPadding":0,"domain":false}},"y2":{"field":"hi"},"color":{"field":"d","type":"quantitative","legend":null,"scale":{"type":"threshold","domain":[2.05,3.33,4.61,5.89,7.17,8.45,9.73,11.01,12.29,13.57,14.85,16.13,17.41,18.69,19.97],"range":["#ff0000","#ff2000","#ff4d00","#ff6600","#ff8c00","#ffa500","#a0ba86","#97b38b","#8fae8f","#89ab95","#80a39c","#7a9ea2","#6c96ac","#6390b3","#5585ba","#0000ff"]}}}}
]}
